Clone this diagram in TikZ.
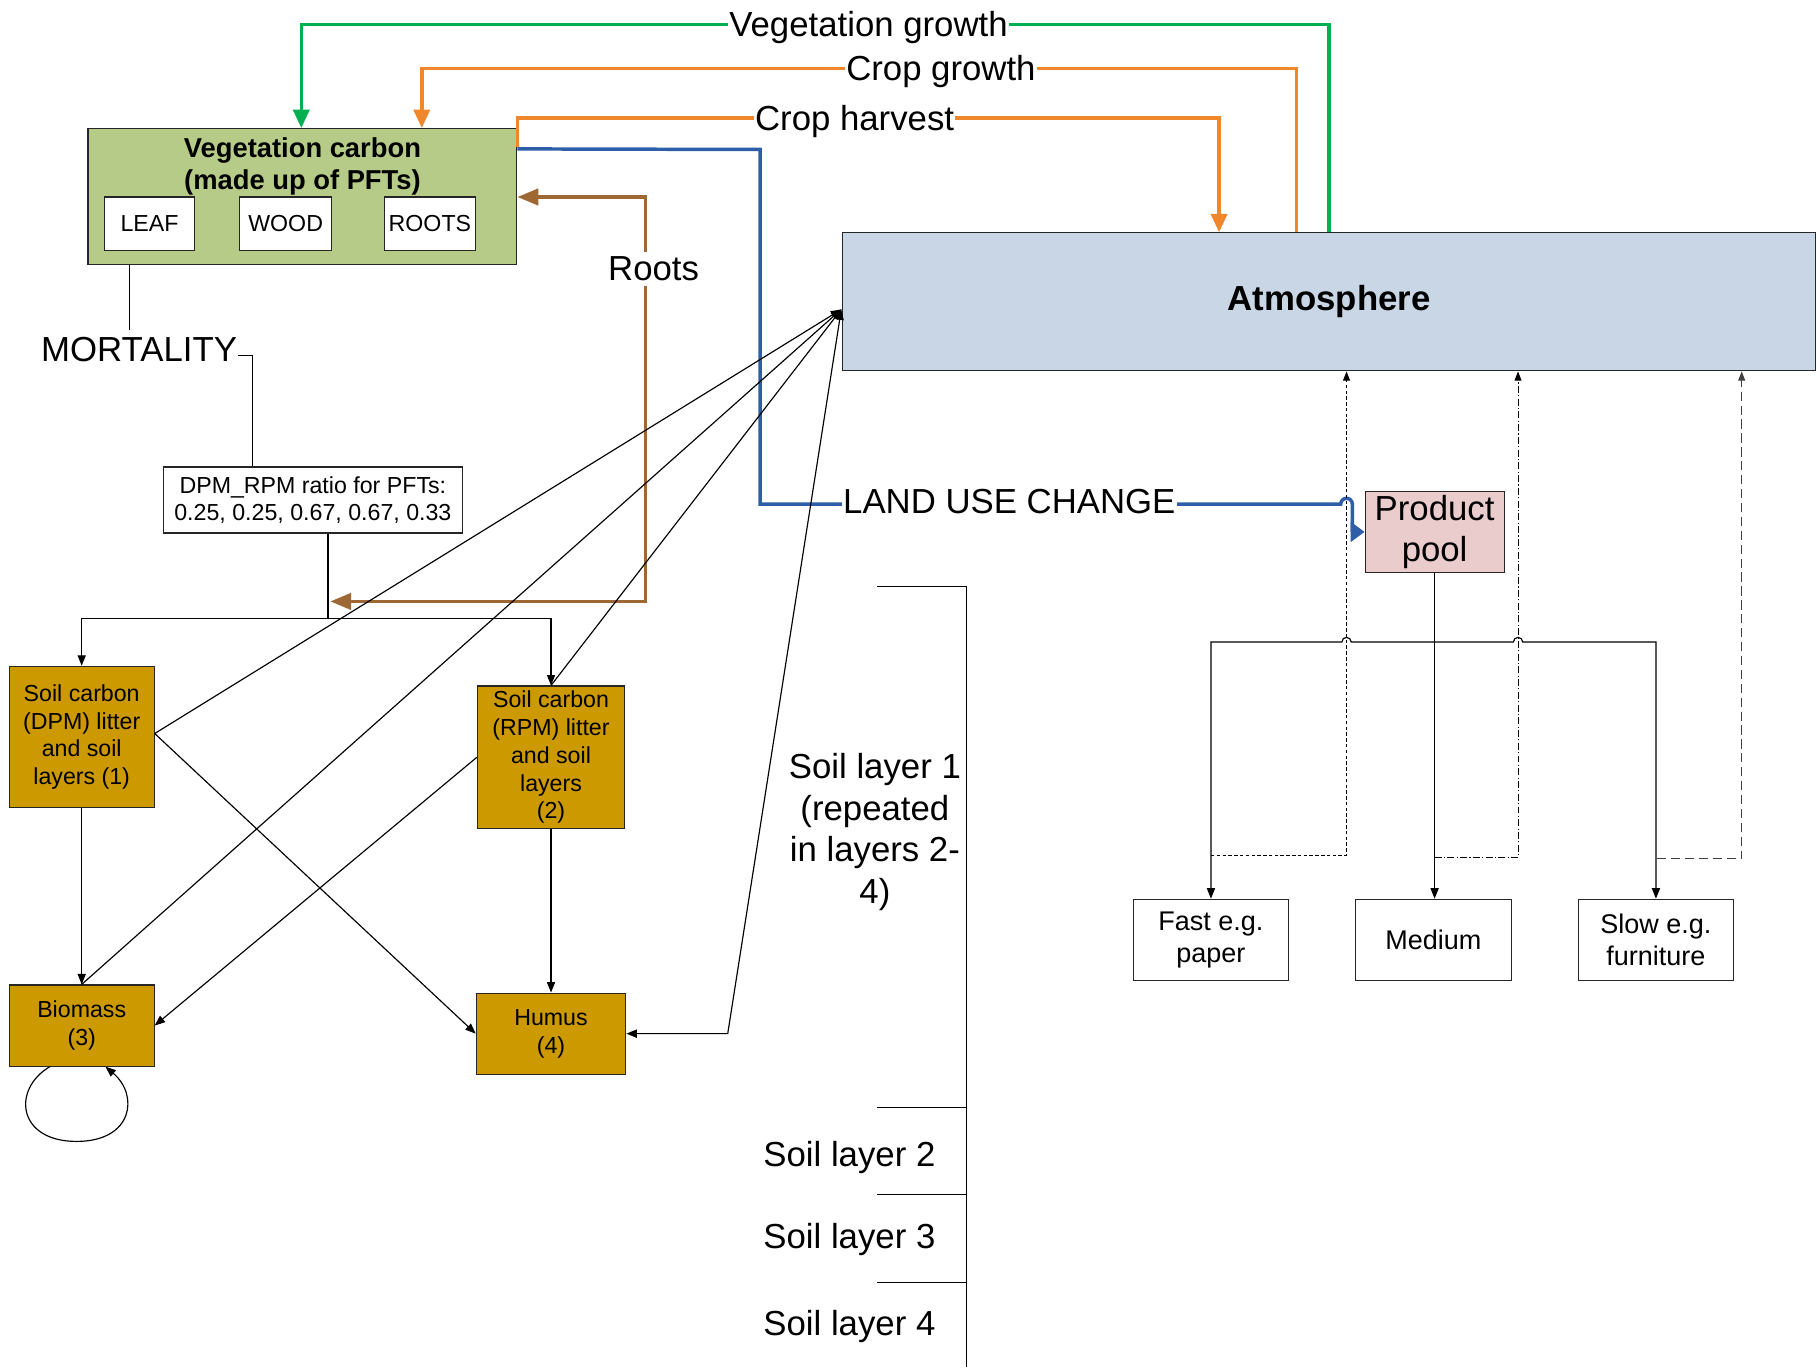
\documentclass[tikz,border=0pt]{standalone}
\usepackage{fontspec}
\setmainfont{Liberation Sans}
\usetikzlibrary{arrows.meta,calc}
\definecolor{vegfill}{RGB}{183,203,137}
\definecolor{atmfill}{RGB}{201,214,230}
\definecolor{prodfill}{RGB}{235,204,204}
\definecolor{soilfill}{RGB}{204,153,0}
\definecolor{cgreen}{RGB}{0,176,80}
\definecolor{corange}{RGB}{240,135,45}
\definecolor{cbrown}{RGB}{158,104,52}
\definecolor{cblue}{RGB}{47,94,168}
\begin{document}
\begin{tikzpicture}[x=1pt,y=-1pt,
  box/.style={draw=black!85, line width=1pt, inner sep=0pt, align=center},
  f20/.style={font=\fontsize{20}{24}\selectfont},
  f23/.style={font=\fontsize{23.3}{28}\selectfont},
  f30/.style={font=\fontsize{30}{36}\selectfont},
  lab/.style={f30, fill=white, inner xsep=1pt, inner ysep=2pt},
  thinl/.style={line width=1pt, draw=black},
  arr/.style={thinl, -{Triangle[length=9pt,width=7pt]}},
  darr/.style={thinl, {Triangle[length=9pt,width=7pt]}-{Triangle[length=9pt,width=7pt]}},
  bigtip/.style={-{Triangle[length=16pt,width=14pt]}},
  cline/.style={line width=3pt},
  fastd/.style={line width=0.8pt, dash pattern=on 3pt off 2pt, -{Triangle[length=8pt,width=6pt]}},
  medd/.style={line width=0.8pt, dash pattern=on 6pt off 2pt on 1pt off 2pt, -{Triangle[length=8pt,width=6pt]}},
  slowd/.style={line width=0.9pt, draw=black!75, dash pattern=on 8pt off 4pt, -{Triangle[length=8pt,width=6pt]}}
]
\useasboundingbox (0,0) rectangle (1568,1180);

% ---------- nodes ----------
\node[box, fill=vegfill, minimum width=370pt, minimum height=117pt] (veg) at (261,169.5) {};
\node[font=\bfseries\fontsize{23.6}{27}\selectfont, align=center] (vegt) at (261,143.5) {Vegetation carbon\\(made up of PFTs)};
\node[box, fill=white, minimum width=78pt, minimum height=46pt, f20] (leaf) at (129,193) {LEAF};
\node[box, fill=white, minimum width=79pt, minimum height=46pt, f20] (wood) at (246.5,193) {WOOD};
\node[box, fill=white, minimum width=78pt, minimum height=46pt, f20] (roots) at (371,193) {ROOTS};

\node[box, fill=atmfill, minimum width=840pt, minimum height=119pt, font=\bfseries\fontsize{30}{36}\selectfont] (atm) at (1147,260.5) {Atmosphere};
\coordinate (atmin) at (726,267);

\node[f30, inner xsep=1pt, inner ysep=5pt] (mort) at (120,302) {MORTALITY};
\node[box, fill=white, minimum width=258pt, minimum height=57pt, f20] (ratio) at (270,431.5) {DPM\_RPM ratio for PFTs:\\0.25, 0.25, 0.67, 0.67, 0.33};

\node[box, fill=soilfill, minimum width=125pt, minimum height=122pt, f20] (dpm) at (70.5,636) {Soil carbon\\(DPM) litter\\and soil\\layers (1)};
\node[box, fill=soilfill, minimum width=127pt, minimum height=123pt, f20] (rpm) at (475.5,653.5) {Soil carbon\\(RPM) litter\\and soil\\layers\\(2)};
\node[box, fill=soilfill, minimum width=125pt, minimum height=70pt, f20] (bio) at (70.5,885) {Biomass\\(3)};
\node[box, fill=soilfill, minimum width=129pt, minimum height=70pt, f20] (hum) at (475.5,892) {Humus\\(4)};

\node[box, fill=prodfill, minimum width=120pt, minimum height=70pt, font=\fontsize{30}{35}\selectfont] (prod) at (1238,459) {Product\\pool};
\node[box, fill=white, minimum width=134pt, minimum height=70pt, f23] (fast) at (1045,811) {Fast e.g.\\paper};
\node[box, fill=white, minimum width=134pt, minimum height=70pt, f23] (med) at (1237,811) {Medium};
\node[box, fill=white, minimum width=134pt, minimum height=70pt, f23] (slow) at (1429,811) {Slow e.g.\\furniture};

\coordinate (split) at (283,534);
\coordinate (rootend) at (285,519);
\coordinate (pj) at (1238,554);

% ---------- colored connectors ----------
\draw[cline, draw=cgreen, bigtip] (1147,0 |- atm.north) |- (260,21) -- (260,0 |- veg.north);
\draw[cline, draw=corange, bigtip] (1119,0 |- atm.north) |- (364,59) -- (364,0 |- veg.north);
\draw[cline, draw=corange, bigtip] ([yshift=-16pt]veg.north east) |- (1052,102) -- (1052,0 |- atm.north);
\draw[cline, draw=cbrown, {Triangle[length=18pt,width=14pt]}-{Triangle[length=18pt,width=14pt]}]
  (rootend) -- (557,519) -- (557,170) -- (veg.east |- 0,170);
\draw[cline, draw=cblue, -{Triangle[length=12pt,width=17pt]}]
  ([yshift=-18pt]veg.north east) -- (656,129) -- (656,435) -- (1157,435)
  arc[start angle=180,end angle=360,radius=5] -- (1167,459) -- (prod.west);

% ---------- labels on colored connectors ----------
\node[lab] at (749.5,24) {Vegetation growth};
\node[lab] at (812,62) {Crop growth};
\node[lab] at (737.5,105) {Crop harvest};
\node[lab, inner ysep=4pt] at (564,232) {Roots};
\node[lab] at (871,433) {LAND USE CHANGE};

% ---------- black connectors ----------
\draw[thinl] (112,0 |- veg.south) -- (112,285);
\draw[thinl] ([yshift=-5pt]mort.east) -| (218,0 |- ratio.north);
\draw[thinl] (283,0 |- ratio.south) -- (split);
\draw[arr] (split) -| (dpm.north);
\draw[arr] (split) -| (rpm.north);

\draw[arr] (dpm.south) -- (bio.north);
\draw[arr] (rpm.south) -- (hum.north);
\draw[arr] ([yshift=3pt]dpm.east) -- (hum.west);
\draw[arr] (rpm.west) -- (bio.east);
\draw[arr] ([yshift=3pt]dpm.east) -- (atmin);
\draw[arr] (bio.north) -- (atmin);
\draw[arr] (rpm.north) -- (atmin);
\draw[darr] (hum.east) -- (628,892) -- (atmin);
\draw[arr] ([xshift=-27.5pt]bio.south) .. controls (10,940) and (15,985) .. (66,985)
  .. controls (115,985) and (120,945) .. ([xshift=20.5pt]bio.south);

% product pool distribution
\draw[arr] (prod.south) -- (prod.south |- med.north);
\draw[arr] (pj) -- (1166,554) arc[start angle=0,end angle=-180,radius=4] -| (fast.north);
\draw[arr] (pj) -- (1306,554) arc[start angle=180,end angle=360,radius=4] -| (slow.north);

% returns to atmosphere
\draw[fastd] (1045,738) -| (1162,0 |- atm.south);
\draw[medd] (1238,740) -| (1310,0 |- atm.south);
\draw[slowd] (1430,741) -| (1503,0 |- atm.south);

% ---------- soil layer bracket ----------
\draw[thinl] (757,506) -- (834,506) -- (834,1180);
\draw[thinl] (757,956) -- (834,956);
\draw[thinl] (757,1031) -- (834,1031);
\draw[thinl] (757,1107) -- (834,1107);
\node[f30, align=center] (sl1) at (755,718) {Soil layer 1\\(repeated\\in layers 2-\\4)};
\node[f30] (sl2) at (733,999) {Soil layer 2};
\node[f30] (sl3) at (733,1070) {Soil layer 3};
\node[f30] (sl4) at (733,1145) {Soil layer 4};
\end{tikzpicture}
\end{document}
